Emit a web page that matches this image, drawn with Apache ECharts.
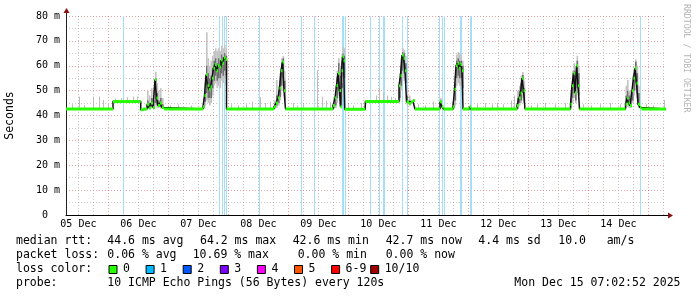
<!DOCTYPE html>
<html><head><meta charset="utf-8">
<script src="https://cdn.jsdelivr.net/npm/echarts@6/dist/echarts.min.js"></script>
<style>html,body{margin:0;padding:0;background:#fff}#c{width:697px;height:297px}</style>
</head><body><div id="c"></div>
<script>
// Time unit: hours since 05 Dec 2025 00:00
const startH = 7.048, endH = 247.048;
const dayLabels = ['05 Dec','06 Dec','07 Dec','08 Dec','09 Dec','10 Dec','11 Dec','12 Dec','13 Dec','14 Dec'];
const dayLabelHours = [12,36,60,84,108,132,156,180,204,228];
const midnightHours = [24,48,72,96,120,144,168,192,216,240];
const sixHourHours = [12,18,30,36,42,54,60,66,78,84,90,102,108,114,126,132,138,150,156,162,174,180,186,198,204,210,222,228,234,246];
const yTickValues = [0,10,20,30,40,50,60,70,80];

// median rtt (ms), step values holding from time until next time
const medianT = [7.05,25.85,36.93,37.85,39.45,40.25,41.05,41.85,42.65,43.25,43.85,44.65,45.45,46.25,
  61.85,62.45,63.05,63.65,64.25,64.85,65.45,66.05,66.65,67.25,67.85,68.45,69.05,69.65,70.25,70.85,71.25,
  90.25,91.05,91.85,92.45,93.05,93.65,94.25,94.85,
  113.85,114.65,115.25,115.85,116.45,116.85,117.25,117.65,118.05,118.53,126.77,
  140.25,140.85,141.45,142.05,142.65,143.25,144.25,145.05,145.85,146.65,
  156.65,157.45,158.05,161.85,162.45,163.05,163.65,164.25,164.85,165.45,165.85,168.45,169.05,
  187.45,188.25,188.85,189.45,190.05,190.65,
  208.85,209.45,210.05,210.65,211.25,211.85,212.45,
  230.85,231.45,232.05,232.65,233.45,234.05,234.65,235.25,235.85,236.65,237.25,247.05];
const medianV = [42.6,45.6,42.3,42.6,44.5,43.0,45.0,43.2,54.5,47.0,44.0,45.0,43.2,42.6,
  43.5,48,56.5,52,50.5,51.5,55,59,60.5,58,60,59.5,62.3,61,63.2,62.5,42.6,
  43.5,45,47,51,58,61.5,50,42.6,
  44,47,52,57,50,43.5,58,63.6,62,42.5,45.6,
  52,56,64.3,63,58,45.5,44.8,45.5,46,42.6,
  45.5,43.5,42.6,43.5,50.5,60,61,59,60.5,58,42.6,43.5,42.6,
  44,47,49,55,50,42.6,
  44.5,52,57,49,60,52,42.6,
  44.5,47,45,44,50,55,59,53,44.5,43.2,42.6,42.7];

// smoke around the busy periods (ms): outer band and dark core band
const smokeT = [39.45,40.25,41.05,41.85,42.65,43.25,43.85,44.65,45.45,
  61.85,62.45,63.05,63.65,64.25,64.85,65.45,66.05,66.65,67.25,67.85,68.45,69.05,69.65,70.25,70.85,
  90.25,91.05,91.85,92.45,93.05,93.65,94.25,
  113.85,114.65,115.25,115.85,116.45,116.85,117.25,117.65,118.05,
  140.25,140.85,141.45,142.05,142.65,143.25,144.25,
  156.65,161.85,162.45,163.05,163.65,164.25,164.85,165.45,
  187.45,188.25,188.85,189.45,190.05,
  208.85,209.45,210.05,210.65,211.25,211.85,
  230.85,231.45,232.05,232.65,233.45,234.05,234.65,235.25,235.85];
const smokeLo = [43,42.6,43,42.8,44,43,43,42.8,42.6,
  42.6,44,46,45,44,45,48,52,53,51,52,51,54,53,55,52,
  42.6,43,44,46,50,52,45,
  42.6,43,45,48,44,43,48,53,52,
  46,50,55,54,50,44,44,
  43,42.6,44,52,53,52,52,48,
  43,44,45,47,45,
  43,45,47,45,49,46,
  43,43.5,43,43,45,48,50,47,43];
const smokeHi = [50,48,51,50,57.6,53,50,51,47,
  47,53,73.5,63,60,62,64,66,67,66,67,66,68,67,68.5,67,
  46,54.3,52,57,63,64,58,
  47,52,58,63,60,55,65,67.7,67,
  57,63,67,66.5,64,50,48,
  47,47,56,64.5,65.5,65,64.5,62,
  50,52,56,57.5,54,
  50,58,61,58,64,60,
  52,54.3,50,50,56,59,62.5,60,52];
const coreLo = [43.5,43,43.5,43,45,44,43.5,43.5,43,
  43,45.5,49,47,47,47,51,54,56,54,55,55,57,56,58,56,
  43,44,45,47.5,52,55,46,
  43,44,47,50,46,44,51,56,55,
  47,52,58,57,53,45,44.5,
  44,43,46,55,56,55,55,51,
  43.5,45,46,49,46,
  44,47,49,46,51,48,
  44,45,44,44,46,50,53,49,44];
const coreHi = [46,45,47,46,55,49,46,47,44.5,
  45,50,60,57,55,56,59,62,63,61,63,62,64.5,63.5,65,64,
  44.5,48,50,54,61,63,54,
  45,50,55.6,61,56,50,62,65,64,
  55,60,65.5,65,61,48,46,
  46,45,53,62,63,62,62,60,
  47,50,53,56.3,51,
  47,55,58,54,62,57,
  48,50,48,47,53,57,61.6,57,49];

// isolated ping spikes (ms)
const spikeT = [9.5,12.25,14.37,17.73,20.37,21.97,23.97,26.5,28.93,31.33,33.97,35.33,48.5,52,57,73,76,79.05,81.45,84.65,86.65,88.65,
  97.85,99.5,102,107.57,109.45,111.05,112.65,120,122,125.05,126.25,131.05,132.25,133.85,135.45,137.05,138.65,
  148,150.5,153.97,161.33,171.45,174.65,177.45,179.45,182,185.05,186.25,187.85,193,195.45,198.65,202.65,206.65,
  214,217,220.65,224.65,228.65,239,242,246.25];
const spikeLo = [42.6,42.6,42.6,42.6,42.6,42.6,42.6,45.6,45.6,45.6,45.6,45.6,42.6,42.6,42.6,42.6,42.6,42.6,42.6,42.6,42.6,42.6,
  42.6,42.6,42.6,42.6,42.6,42.6,42.6,42.6,42.6,42.6,42.6,45.6,45.6,45.6,45.6,45.6,45.6,
  42.6,42.6,42.6,42.6,42.6,42.6,42.6,42.6,42.6,42.6,42.6,42.6,42.6,42.6,42.6,42.6,42.6,
  42.6,42.6,42.6,42.6,42.6,42.6,42.6,42.6];
const spikeHi = [44.5,47.6,44.2,47.6,47.6,46.2,45,46.8,47,47.3,47.6,47.6,44,44.5,44,44.5,44,44.5,45.5,47.3,45,45.5,
  45,44,44.5,58.3,47.5,46,45.5,44.5,44,45,44,48,50.9,49,48,47.5,47,
  44.5,44,45.5,45.5,44.5,45,44.5,45,44.5,46,48,50.3,44,44.5,45,44.5,45,
  44.5,44,44.5,45,44.5,44.5,44,46.2];

// times with packet loss (vertical light-blue marks)
const lossT = [29.97,68.37,69.25,70.13,70.93,84.37,100.93,106.37,117.45,117.97,118.53,128.77,132.05,133.73,134.37,
  141.25,143.25,156.37,157.33,158.25,164.45,164.85,168.65,169.17,236.65];

// legend texts
const rttStats = ['median rtt:','44.6 ms avg','64.2 ms max','42.6 ms min','42.7 ms now','4.4 ms sd','10.0','am/s'];
const lossStats = ['packet loss:','0.06 % avg','10.69 % max','0.00 % min','0.00 % now'];
const lossNames = ['0','1','2','3','4','5','6-9','10/10'];
const lossColors = ['#26ff00','#00b8ff','#0059ff','#7e00ff','#ff00ff','#ff5500','#ff0000','#a10000'];
const probeText = ['probe:','10 ICMP Echo Pings (56 Bytes) every 120s','Mon Dec 15 07:02:52 2025'];

const MONO = '"DejaVu Sans Mono", monospace';
const chart = echarts.init(document.getElementById('c'), null, {renderer:'canvas'});

function vline(color, dash, width) {
  return function (p, api) {
    const a = api.coord([api.value(0), 0]), b = api.coord([api.value(0), 80]);
    const x = Math.round(a[0]) + 0.5;
    return {type:'line', shape:{x1:x, y1:a[1], x2:x, y2:b[1]},
      style:{stroke:color, lineWidth:width, lineDash:dash}, silent:true};
  };
}

const greenData = medianT.slice(0, -1).map((t, i) => [t, medianT[i + 1], medianV[i]]);
const smokeData = smokeT.map((t, i) => [t, smokeLo[i], smokeHi[i], coreLo[i], coreHi[i]]);
const spikeData = spikeT.map((t, i) => [t, spikeLo[i], spikeHi[i]]);

const option = {
  animation: false,
  backgroundColor: '#ffffff',
  grid: {left: 66, right: 31, top: 16, bottom: 82, containLabel: false},
  xAxis: {
    type: 'value', min: startH, max: endH,
    axisLine: {show: true, lineStyle: {color: '#000', width: 1}},
    axisTick: {show: false},
    splitLine: {show: false},
    axisLabel: {
      customValues: dayLabelHours,
      formatter: v => dayLabels[dayLabelHours.indexOf(v)] || '',
      fontFamily: MONO, fontSize: 10, color: '#000', margin: 4
    }
  },
  yAxis: {
    type: 'value', min: 0, max: 80, interval: 10,
    axisLine: {show: true, lineStyle: {color: '#222', width: 1}},
    axisTick: {show: false},
    axisLabel: {
      formatter: v => (v === 0 ? '0  ' : v + ' m'),
      fontFamily: MONO, fontSize: 10, color: '#000', margin: 6
    },
    splitLine: {show: true, lineStyle: {color: 'rgba(200,50,50,0.45)', type: [1, 2], width: 1}},
    minorTick: {show: false, splitNumber: 2},
    minorSplitLine: {show: true, lineStyle: {color: 'rgba(140,140,140,0.45)', type: [1, 2], width: 1}}
  },
  series: [
    {type: 'custom', renderItem: vline('rgba(140,140,140,0.5)', [1, 2], 1), data: sixHourHours.map(h => [h]), encode: {x: 0}, z: 1, silent: true},
    {type: 'custom', renderItem: vline('rgba(200,50,50,0.45)', [1, 2], 1), data: midnightHours.map(h => [h]), encode: {x: 0}, z: 1, silent: true},
    {type: 'custom', renderItem: vline('#a6def6', null, 1), data: lossT.map(h => [h]), encode: {x: 0}, z: 2, silent: true},
    {type: 'custom', z: 3, silent: true, data: spikeData, encode: {x: 0, y: [1, 2]},
      renderItem: (p, api) => {
        const a = api.coord([api.value(0), api.value(1)]), b = api.coord([api.value(0), api.value(2)]);
        return {type: 'rect', shape: {x: Math.round(a[0]), y: b[1], width: 1, height: a[1] - b[1]}, style: {fill: '#bdbdbd'}};
      }},
    {type: 'custom', z: 3, silent: true, data: smokeData, encode: {x: 0, y: [1, 2]},
      renderItem: (p, api) => {
        const t = api.value(0);
        const o1 = api.coord([t, api.value(1)]), o2 = api.coord([t + 0.65, api.value(2)]);
        const c1 = api.coord([t, api.value(3)]), c2 = api.coord([t + 0.65, api.value(4)]);
        return {type: 'group', children: [
          {type: 'rect', shape: {x: o1[0], y: o2[1], width: o2[0] - o1[0], height: o1[1] - o2[1]}, style: {fill: '#c4c4c4'}},
          {type: 'rect', shape: {x: c1[0], y: c2[1], width: c2[0] - c1[0], height: c1[1] - c2[1]}, style: {fill: '#6e6e6e'}}
        ]};
      }},
    {type: 'line', step: 'end', symbol: 'none', z: 4, silent: true,
      data: medianT.map((t, i) => [t, medianV[i]]),
      lineStyle: {color: '#111', width: 1.5}},
    {type: 'custom', z: 5, silent: true, data: greenData, encode: {x: [0, 1], y: 2},
      renderItem: (p, api) => {
        const a = api.coord([api.value(0), api.value(2)]), b = api.coord([api.value(1), api.value(2)]);
        return {type: 'rect', shape: {x: a[0], y: a[1] - 1.5, width: Math.max(b[0] - a[0], 1.5), height: 3}, style: {fill: lossColors[0]}};
      }}
  ]
};
chart.setOption(option);

// decorations: axis arrows, titles, legend block
const o = chart.convertToPixel({gridIndex: 0}, [startH, 0]);
const tr = chart.convertToPixel({gridIndex: 0}, [endH, 80]);
const ox = Math.round(o[0]) + 0.5, oy = Math.round(o[1]) + 0.5;
const g = [];
g.push({type: 'line', shape: {x1: ox, y1: tr[1], x2: ox, y2: tr[1] - 6}, style: {stroke: '#222', lineWidth: 1}});
g.push({type: 'polygon', shape: {points: [[ox - 3, tr[1] - 3], [ox + 3, tr[1] - 3], [ox, tr[1] - 8]]}, style: {fill: '#8b1010'}});
g.push({type: 'line', shape: {x1: tr[0], y1: oy, x2: tr[0] + 3, y2: oy}, style: {stroke: '#000', lineWidth: 1}});
g.push({type: 'polygon', shape: {points: [[tr[0] + 2, oy - 3], [tr[0] + 2, oy + 3], [tr[0] + 7, oy]]}, style: {fill: '#8b1010'}});
g.push({type: 'text', x: 10, y: (o[1] + tr[1]) / 2, rotation: Math.PI / 2,
  style: {text: 'Seconds', font: '11.5px ' + MONO, fill: '#000', align: 'center', verticalAlign: 'middle'}});
g.push({type: 'text', x: 686, y: 4, rotation: -Math.PI / 2,
  style: {text: 'RRDTOOL / TOBI OETIKER', font: '8.2px ' + MONO, fill: '#b4b4b4', align: 'left', verticalAlign: 'middle'}});

const LF = '11.5px ' + MONO;
const rowY = [241, 255, 269, 283];
const rttX = [16, 107.3, 200, 292.7, 385.7, 478.3, 558.3, 606.7];
rttStats.forEach((s, i) => g.push({type: 'text', x: rttX[i], y: rowY[0], style: {text: s, font: LF, fill: '#000', verticalAlign: 'middle'}}));
const lossX = [16, 107.3, 192.7, 297.7, 385.7];
lossStats.forEach((s, i) => g.push({type: 'text', x: lossX[i], y: rowY[1], style: {text: s, font: LF, fill: '#000', verticalAlign: 'middle'}}));
g.push({type: 'text', x: 16, y: rowY[2], style: {text: 'loss color:', font: LF, fill: '#000', verticalAlign: 'middle'}});
lossNames.forEach((s, i) => {
  const sx = 108.5 + i * 37.1 + (i === 7 ? 2 : 0);
  g.push({type: 'rect', shape: {x: sx + 0.5, y: rowY[2] - 3.5, width: 8, height: 8}, style: {fill: lossColors[i], stroke: '#000', lineWidth: 1}});
  g.push({type: 'text', x: sx + 14.5, y: rowY[2], style: {text: s, font: LF, fill: '#000', verticalAlign: 'middle'}});
});
g.push({type: 'text', x: 16, y: rowY[3], style: {text: probeText[0], font: LF, fill: '#000', verticalAlign: 'middle'}});
g.push({type: 'text', x: 107.3, y: rowY[3], style: {text: probeText[1], font: LF, fill: '#000', verticalAlign: 'middle'}});
g.push({type: 'text', x: 680.5, y: rowY[3], style: {text: probeText[2], font: LF, fill: '#000', align: 'right', verticalAlign: 'middle'}});
chart.setOption({graphic: g});
</script></body></html>
